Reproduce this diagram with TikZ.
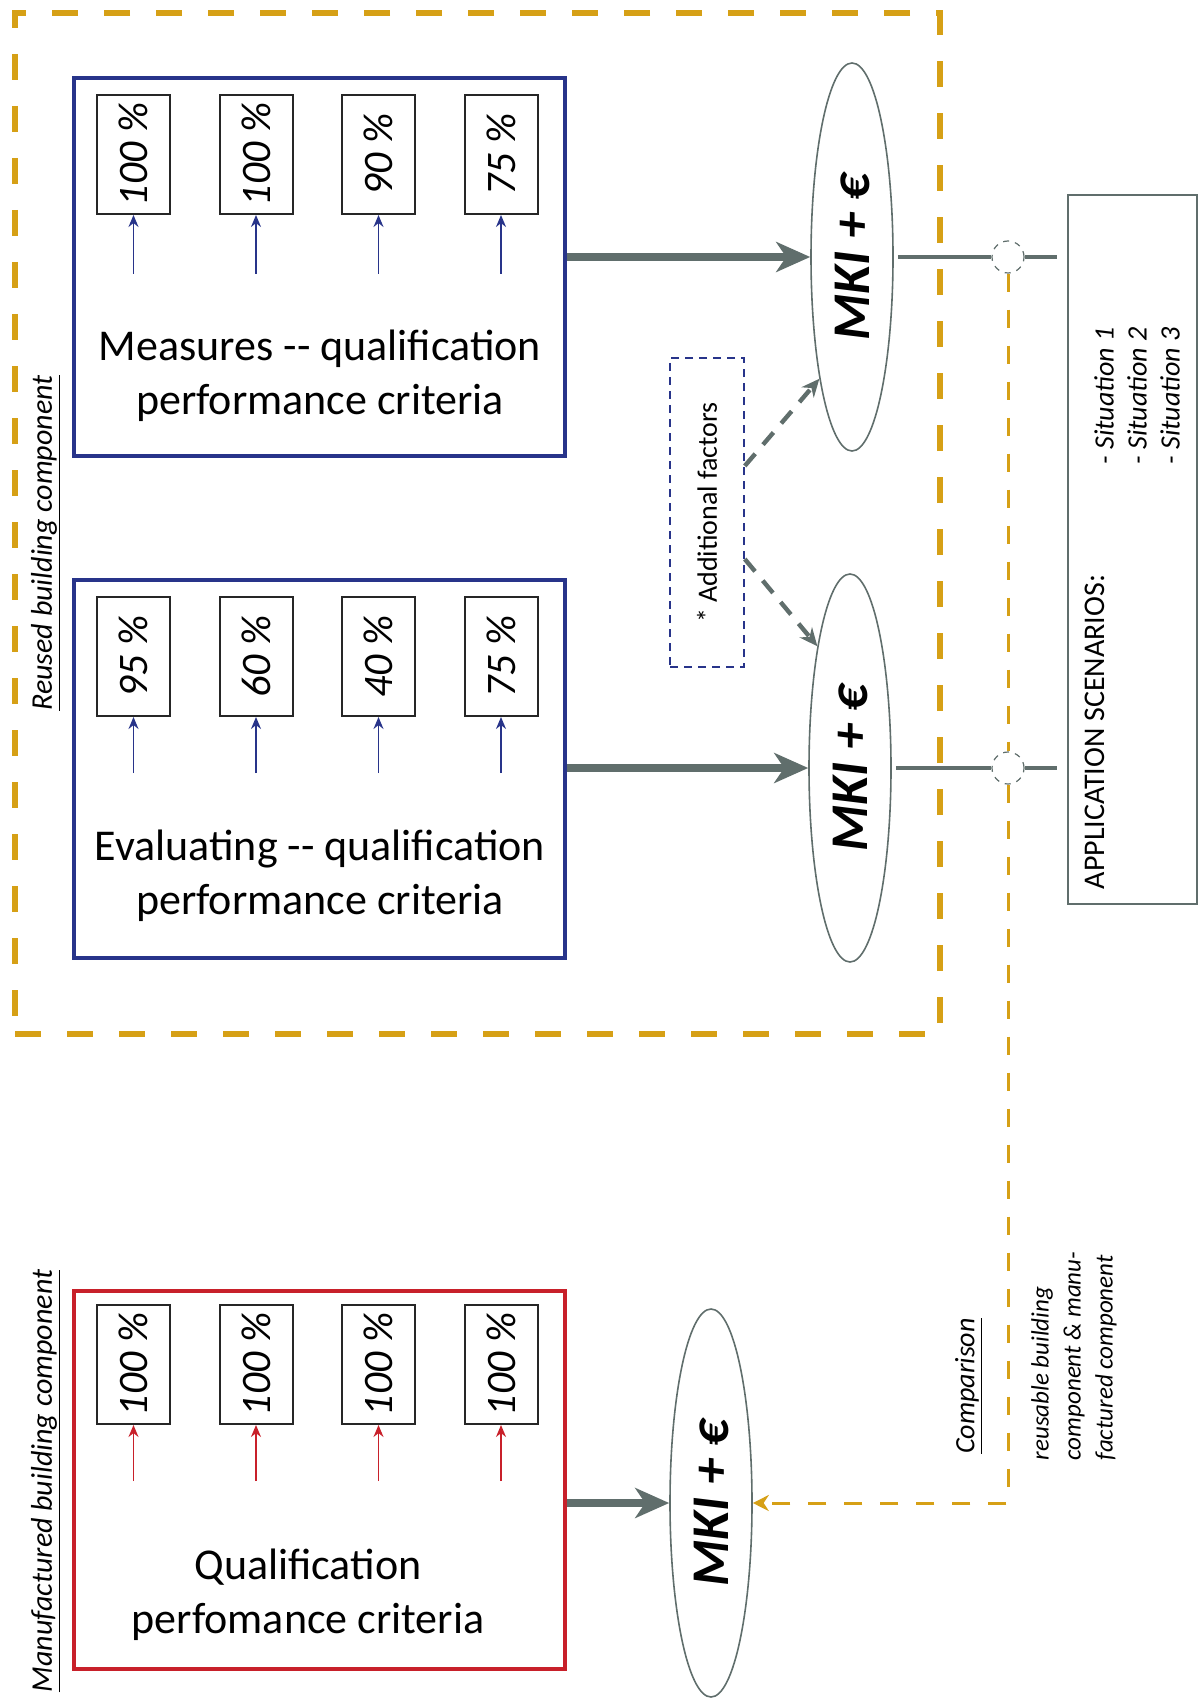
\documentclass[tikz,border=0pt]{standalone}
\usepackage{fontspec}
\setmainfont{Carlito}
\usetikzlibrary{shapes.geometric, arrows.meta, positioning, calc}
\definecolor{gold}{RGB}{214,160,22}
\definecolor{navy}{RGB}{40,52,138}
\definecolor{brick}{RGB}{200,32,42}
\definecolor{slate}{RGB}{96,110,108}
\newcommand{\vtxt}[1]{\rotatebox{90}{#1}}
\tikzset{
    groupbox/.style={rectangle, draw=#1, line width=2pt, minimum width=245.5pt, minimum height=189pt, inner sep=0pt},
    valuebox/.style={rectangle, draw=black!85, line width=1pt, minimum width=36.5pt, minimum height=59.5pt, inner sep=0pt, font=\fontsize{21}{24}\selectfont\itshape},
    maintext/.style={align=center, font=\fontsize{22}{27}\selectfont},
    mki/.style={ellipse, draw=slate, line width=0.8pt, minimum width=41pt, minimum height=194pt, inner sep=0pt, font=\fontsize{26.5}{30}\selectfont\bfseries\itshape},
    joint/.style={circle, draw=slate, dashed, line width=0.6pt, minimum size=16pt, inner sep=0pt},
    reusedframe/.style={rectangle, draw=gold, line width=3pt, dash pattern=on 13pt off 13pt, minimum width=462.5pt, minimum height=510.5pt},
    sidelabel/.style={rotate=90, font=\fontsize{15}{18}\selectfont\itshape},
    uparrow/.style={-{Stealth[length=6pt, width=5pt]}, line width=0.8pt, draw=#1},
    flow/.style={-{Stealth[length=17pt, width=15pt, inset=5pt]}, line width=4pt, slate},
    link/.style={line width=2pt, slate},
    factorarrow/.style={-{Stealth[length=9pt, width=8pt]}, line width=2.2pt, slate, dash pattern=on 8pt off 6pt},
    compare/.style={line width=1.5pt, gold, dash pattern=on 9pt off 9pt},
}

\begin{document}
\begin{tikzpicture}[x=0.5pt, y=-0.5pt]
    \useasboundingbox (0,0) rectangle (1198,1701);

    % Reused building component
    \node[reusedframe] (reused) at (477.5,523.5) {};
    \node[sidelabel] (reusedlabel) at (46,543) {\underline{Reused building component}};

    \node[groupbox=navy] (measures) at (319.5,267) {};
    \node[maintext] (meastext) at (320,376) {Measures -{}- qualification\\performance criteria};
    \foreach \v [count=\i] in {100,100,90,75} {
        \node[valuebox] (m\i) at ({133.5+122.5*(\i-1)},154.5) {\vtxt{\v~\%}};
        \draw[uparrow=navy] ([yshift=-29.5pt]m\i.south) -- (m\i.south);
    }

    \node[groupbox=navy] (evaluating) at (319.5,769) {};
    \node[maintext] (evaltext) at (320,876) {Evaluating -{}- qualification\\performance criteria};
    \foreach \v [count=\i] in {95,60,40,75} {
        \node[valuebox] (e\i) at ({133.5+122.5*(\i-1)},656.5) {\vtxt{\v~\%}};
        \draw[uparrow=navy] ([yshift=-28pt]e\i.south) -- (e\i.south);
    }

    % Manufactured building component
    \node[groupbox=brick] (manufactured) at (319.5,1479.5) {};
    \node[sidelabel] (manulabel) at (46,1481) {\underline{Manufactured building component}};
    \node[maintext] (manutext) at (308,1595) {Qualification\\perfomance criteria};
    \foreach \v [count=\i] in {100,100,100,100} {
        \node[valuebox] (q\i) at ({133.5+122.5*(\i-1)},1364.5) {\vtxt{\v~\%}};
        \draw[uparrow=brick] ([yshift=-28pt]q\i.south) -- (q\i.south);
    }

    % MKI + euro
    \node[mki] (mkimeas) at (852,257) {\vtxt{MKI + €}};
    \node[mki] (mkieval) at (850,768) {\vtxt{MKI + €}};
    \node[mki] (mkimanu) at (711,1503) {\vtxt{MKI + €}};

    \draw[flow] (measures.east |- mkimeas) -- (mkimeas);
    \draw[flow] (evaluating.east |- mkieval) -- (mkieval);
    \draw[flow] (manufactured.east |- mkimanu) -- (mkimanu);

    % Additional factors
    \node[rectangle, draw=navy, line width=0.8pt, dash pattern=on 4pt off 3pt, minimum width=37pt, minimum height=154.5pt, inner sep=0pt,
          font=\fontsize{14}{16}\selectfont] (factors) at (707,512.5) {\vtxt{* Additional factors}};
    \draw[factorarrow] ($(factors.north east)!0.35!(factors.south east)$) -- (mkimeas.255);
    \draw[factorarrow] ($(factors.north east)!0.65!(factors.south east)$) -- (mkieval.105);

    % Scenarios
    \node[rectangle, draw=slate, line width=1pt, minimum width=64.5pt, minimum height=354.5pt] (scenarios) at (1132.5,549.5) {};
    \node[rotate=90, font=\fontsize{15}{18}\selectfont] (scentitle) at (1095,732) {APPLICATION SCENARIOS:};
    \node[rotate=90, align=left, font=\fontsize{14}{16.5}\selectfont\itshape] (situations) at (1137,396) {- Situation 1\\- Situation 2\\- Situation 3};

    \node[joint] (jointmeas) at (1008,257) {};
    \node[joint] (jointeval) at (1008,768) {};
    \draw[link] ([xshift=2pt]mkimeas.east) -- (jointmeas);
    \draw[link] (jointmeas.east) -- ++(16pt,0);
    \draw[link] ([xshift=2pt]mkieval.east) -- (jointeval);
    \draw[link] (jointeval.east) -- ++(16pt,0);

    % Comparison
    \draw[compare] (jointmeas.south) -- (jointeval.north);
    \draw[compare, -{Stealth[length=8pt, width=8pt]}] (jointeval.south) -- (jointeval.south |- mkimanu) -- (mkimanu.east);
    \node[rotate=90, font=\fontsize{14}{16}\selectfont\itshape] (comparelabel) at (969,1386) {\underline{Comparison}};
    \node[rotate=90, align=left, font=\fontsize{12.5}{16}\selectfont\itshape] (comparenote) at (1074,1356) {reusable building\\component \& manu-\\factured component};
\end{tikzpicture}
\end{document}
